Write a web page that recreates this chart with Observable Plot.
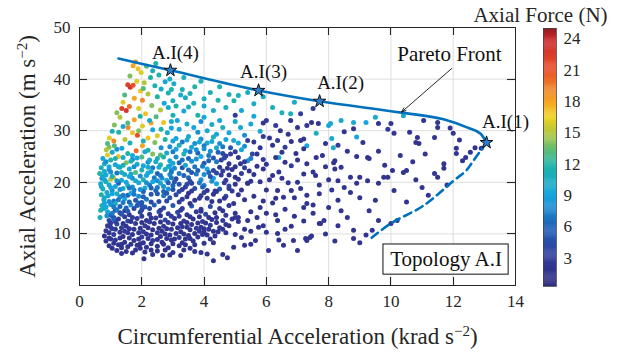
<!DOCTYPE html>
<html><head><meta charset="utf-8">
<script src="https://cdn.jsdelivr.net/npm/d3@7"></script>
<script src="https://cdn.jsdelivr.net/npm/@observablehq/plot@0.6"></script>
<style>
html,body{margin:0;padding:0;background:#fff;}
#wrap{position:relative;width:628px;height:354px;overflow:hidden;}
#wrap svg{position:absolute;top:0;}
</style></head><body><div id="wrap"></div><script>
// ---- data: [circumferential acc (krad/s^2), axial acc (m/s^2), axial force (N)] ----
const warmSpike = [[1.80,43.3,19],[1.72,42.6,18],[1.88,42.0,17],[1.98,41.3,16],[1.62,40.6,14],[2.28,40.3,12],[1.55,38.9,22],[1.63,38.4,23],[1.72,38.8,21],[1.84,39.6,16],[2.08,39.3,15],[2.42,38.7,11],[2.62,38.1,10],[1.96,37.7,17],[2.20,37.1,15],[1.45,36.9,13],[1.76,36.3,18],[2.50,36.6,12],[2.02,35.9,19],[1.36,34.3,22],[1.50,33.9,23],[1.60,34.7,20],[1.90,34.3,16],[2.32,34.9,14],[2.72,35.3,9],[2.12,33.3,17],[1.30,32.6,15],[1.76,32.1,18],[2.46,32.7,13],[1.12,31.1,14],[1.56,30.6,19],[2.02,30.9,16],[2.30,31.5,18],[2.62,30.3,12],[1.26,29.7,12],[1.86,29.1,21],[2.20,28.6,17],[0.96,28.6,16],[1.46,28.3,15],[2.82,29.6,10],[1.62,27.6,11],[2.02,27.1,18],[1.12,27.1,13],[2.42,27.7,14],[0.86,26.3,15],[1.36,26.6,9],[1.82,26.1,20],[2.62,26.7,8],[2.15,42.5,13],[2.35,41.6,11],[2.55,40.8,12],[2.05,38.2,13],[2.85,37.3,11],[1.40,35.5,16],[2.60,34.0,15],[1.95,32.8,12],[2.25,32.0,10],[1.05,29.9,11],[1.70,29.6,17],[2.50,29.0,16],[2.05,28.0,11],[1.55,31.5,13],[1.20,33.5,14],[2.70,31.6,17],[1.90,30.0,14],[2.35,30.2,9],[1.40,30.8,10],[1.10,28.0,19],[0.90,27.5,13],[2.75,28.3,12],[2.95,30.5,9],[3.00,33.0,11],[2.85,34.5,10],[2.75,39.5,9],[2.45,43.0,12]];
const cyanBand = [[1.05,25.8,10],[1.55,25.6,12],[2.1,25.9,9],[2.35,25.5,14],[2.8,25.7,10],[1.25,25.0,17],[0.75,24.6,9],[1.0,24.3,12],[1.4,24.8,10],[1.7,24.4,8],[2.0,24.9,13],[2.5,24.6,11],[2.9,24.2,9],[0.9,25.3,16],[0.8,23.6,10],[1.15,23.4,9],[1.5,23.8,14],[1.85,23.5,10],[2.2,23.9,8],[2.6,23.4,12],[3.0,23.7,10],[0.7,22.8,11],[0.95,22.5,8],[1.3,22.9,12],[1.6,22.6,9],[2.0,22.4,11],[2.35,22.8,7],[2.75,22.5,10],[0.65,21.7,12],[0.85,21.4,9],[1.2,21.8,7],[1.45,21.5,10],[1.8,21.9,13],[2.15,21.3,9],[2.5,21.7,6],[2.9,21.5,8],[0.72,20.8,8],[1.0,20.6,15],[1.1,20.9,16],[1.35,20.4,10],[1.7,20.8,8],[2.05,20.5,11],[2.4,20.9,7],[2.8,20.4,9],[0.68,19.7,10],[0.95,19.5,9],[1.25,19.8,6],[1.55,19.4,11],[1.9,19.9,9],[2.25,19.5,7],[2.6,19.8,10],[3.0,19.4,6],[0.75,18.7,11],[1.05,18.4,8],[1.4,18.8,10],[1.75,18.5,7],[2.1,18.9,9],[2.45,18.4,6],[2.85,18.7,8],[0.7,17.6,12],[0.92,17.4,9],[1.2,17.8,11],[1.55,17.5,6],[1.9,17.3,8],[2.3,17.7,5],[2.7,17.4,7],[0.78,16.6,10],[1.1,16.4,7],[1.45,16.8,9],[1.8,16.5,5],[2.15,16.7,7],[2.55,16.3,4],[0.72,15.5,11],[1.0,15.7,8],[1.3,15.3,6],[1.65,15.6,8],[2.0,15.4,5],[0.68,14.6,12],[0.9,14.3,9],[1.2,14.7,7],[1.55,14.4,5],[0.66,13.2,11],[0.88,13.5,8],[1.1,12.9,6],[0.85,24.0,8],[1.25,23.0,10],[1.65,24.1,11],[2.05,23.2,9],[2.45,24.0,10],[2.85,23.0,11],[0.8,22.1,10],[1.05,21.1,11],[1.6,21.1,9],[2.3,22.1,10],[2.65,20.8,8],[0.85,20.1,12],[1.15,19.2,9],[1.7,19.1,8],[2.05,18.2,6],[2.35,20.1,9],[0.88,18.0,10],[1.3,17.2,8],[1.65,17.9,9],[2.5,19.0,7],[0.8,16.0,9],[1.15,15.9,10],[1.4,16.1,7],[1.9,16.0,6],[1.05,14.0,7],[1.35,13.8,5],[0.78,14.9,10],[2.2,26.2,12],[1.7,25.2,9],[2.6,25.3,13],[1.2,26.4,8],[0.95,26.8,14]];
const cyanFill = [[1.15,24.6,11],[1.85,24.7,9],[2.25,24.3,10],[2.7,24.9,12],[0.95,23.0,9],[1.4,23.3,11],[1.75,23.0,8],[2.2,22.9,10],[2.55,22.9,9],[2.95,22.3,8],[0.75,21.2,10],[1.0,22.0,8],[1.35,21.9,11],[1.65,21.6,10],[1.95,21.2,8],[2.2,21.8,9],[2.6,21.3,7],[2.95,22.0,7],[0.8,20.5,9],[1.2,20.3,8],[1.5,20.0,9],[1.8,20.3,10],[2.15,19.9,8],[2.5,20.3,8],[2.85,19.9,6],[0.7,19.2,10],[1.0,19.0,9],[1.3,18.6,8],[1.6,18.9,7],[1.95,18.6,8],[2.3,18.9,6],[2.7,18.2,6],[3.0,18.6,5],[0.8,17.0,10],[1.05,17.8,9],[1.4,17.5,7],[1.75,17.7,7],[2.05,17.2,6],[2.5,17.8,5],[2.9,17.0,5],[0.95,16.3,8],[1.25,16.6,7],[1.6,16.2,6],[2.0,16.1,5],[2.3,16.2,4],[2.8,16.4,4],[0.85,15.2,9],[1.1,15.2,7],[1.5,15.0,6],[1.85,15.5,5],[2.25,14.9,4]];
const navyCore = [[1.75,14.9,4],[2.1,15.2,5],[2.4,15.6,6],[2.7,15.0,4],[3.0,15.5,5],[3.3,14.9,3],[3.6,15.4,5],[3.9,14.8,3],[4.2,15.3,4],[4.5,14.9,3],[4.8,15.5,2],[1.0,13.6,5],[1.3,14.1,4],[1.6,13.7,3],[1.95,14.2,4],[2.25,13.8,3],[2.55,14.3,5],[2.85,13.9,3],[3.15,14.2,4],[3.45,13.7,2],[3.75,14.3,3],[4.05,13.8,4],[4.35,14.1,2],[4.7,13.6,3],[5.0,14.0,2],[0.95,12.6,4],[1.25,12.9,3],[1.55,12.5,4],[1.85,13.0,3],[2.15,12.6,2],[2.45,13.1,3],[2.75,12.7,4],[3.05,13.0,2],[3.35,12.5,3],[3.65,12.9,2],[3.95,12.4,3],[4.25,12.8,2],[4.6,12.6,3],[0.9,11.6,3],[1.2,11.9,4],[1.5,11.5,2],[1.8,12.0,3],[2.1,11.6,3],[2.4,12.0,2],[2.7,11.5,3],[3.0,11.9,2],[3.3,11.4,3],[3.6,11.8,2],[3.9,11.3,2],[4.2,11.7,3],[4.5,11.2,2],[0.85,10.6,3],[1.15,10.9,2],[1.45,10.5,3],[1.75,10.9,2],[2.05,10.4,3],[2.35,10.8,2],[2.65,10.5,2],[2.95,10.9,3],[3.25,10.4,2],[3.55,10.8,2],[3.85,10.5,3],[4.15,10.9,2],[4.45,10.4,2],[0.8,9.6,2],[1.1,9.9,3],[1.4,9.5,2],[1.7,9.9,2],[2.0,9.4,3],[2.3,9.8,2],[2.6,9.5,2],[2.9,9.8,2],[3.2,9.3,3],[3.5,9.7,2],[3.8,9.4,2],[4.1,9.8,2],[0.85,8.6,2],[1.15,8.8,3],[1.45,8.4,2],[1.75,8.7,2],[2.05,8.3,2],[2.35,8.7,3],[2.65,8.4,2],[2.95,8.8,2],[3.3,8.3,2],[3.65,8.6,2],[4.0,8.2,2],[0.95,7.7,2],[1.25,7.9,2],[1.55,7.5,2],[1.85,7.8,2],[2.15,7.4,2],[2.5,7.6,2],[2.85,7.3,2],[3.2,7.7,2],[3.55,7.2,2],[1.2,6.8,2],[1.5,6.6,2],[1.8,6.9,2],[2.1,6.5,2],[2.5,6.7,2],[3.0,6.4,2],[3.9,6.4,2],[4.1,6.1,2],[2.07,5.2,2],[2.67,5.8,2],[3.25,5.8,2],[4.3,4.8,2],[4.75,5.4,2],[4.95,7.4,2],[4.6,6.0,2],[1.0,12.1,3],[1.35,11.2,3],[1.65,12.4,2],[1.95,11.1,2],[2.25,12.3,3],[2.55,11.1,2],[2.85,12.2,3],[3.15,11.2,2],[3.45,12.2,2],[3.75,11.1,3],[4.05,12.1,2],[1.3,10.3,2],[1.6,9.2,3],[1.9,10.2,2],[2.2,9.1,2],[2.5,10.2,3],[2.8,9.1,2],[3.1,10.1,2],[3.4,9.0,2],[3.7,10.1,2],[4.0,10.3,2],[1.1,13.2,4],[1.45,13.3,3],[2.0,13.4,3],[2.6,13.5,2],[3.2,13.4,3],[3.85,13.3,2],[4.4,13.2,2],[1.35,8.0,2],[1.95,8.1,2],[2.7,8.0,2],[3.4,7.9,2],[1.05,11.0,4],[0.95,9.2,3],[4.35,9.6,2],[4.7,10.2,2],[4.8,11.6,2],[5.1,12.4,2],[5.2,9.3,2],[5.0,13.2,3]];
const coreFill = [[1.15,14.6,4],[1.45,14.5,3],[2.0,14.7,4],[2.6,14.6,3],[3.25,14.6,3],[3.9,14.4,2],[4.6,14.5,2],[1.7,13.2,3],[2.3,13.1,2],[2.95,13.4,3],[3.55,13.3,2],[4.15,13.2,2],[4.9,12.9,2],[1.15,12.4,3],[1.4,12.0,2],[2.0,12.2,2],[2.6,12.3,2],[3.25,12.0,2],[3.8,12.1,2],[4.4,12.2,2],[4.7,11.8,2],[1.0,11.3,3],[1.6,11.0,2],[2.2,11.2,2],[2.8,11.0,2],[3.45,11.3,2],[4.0,11.0,2],[4.6,10.9,2],[0.95,10.2,2],[1.55,10.2,3],[2.15,10.0,2],[2.75,10.0,2],[3.35,10.0,2],[3.95,9.9,2],[4.3,10.5,2],[1.0,9.0,2],[1.3,9.2,2],[1.9,9.0,2],[2.5,8.9,2],[3.05,9.0,2],[3.55,9.1,2],[4.2,9.0,2],[1.1,8.2,2],[1.65,8.0,2],[2.3,8.1,2],[3.0,8.1,2],[3.7,7.9,2],[4.3,8.3,2],[1.05,7.2,2],[1.35,7.3,2],[1.95,7.2,2],[2.3,6.9,2],[2.75,6.9,2],[3.35,6.9,2],[3.7,6.6,2],[1.35,6.2,2],[1.7,6.3,2],[2.35,6.0,2],[2.9,5.9,2]];
const midCloud = [[3.1,28.5,9],[3.5,28.9,10],[3.9,28.4,8],[4.3,28.8,11],[4.7,28.3,9],[3.3,27.8,7],[4.1,27.6,10],[2.9,26.9,8],[3.2,27.2,11],[3.6,26.8,9],[4.0,27.1,7],[4.4,26.7,10],[4.85,26.7,5],[5.3,27.0,8],[3.0,25.9,7],[3.4,26.1,9],[3.8,25.7,6],[4.2,26.0,8],[4.6,25.6,4],[5.0,25.9,3],[5.8,26.7,2],[3.1,24.9,8],[3.5,24.6,6],[3.9,25.0,9],[4.3,24.7,5],[4.7,25.1,3],[5.1,24.8,2],[5.5,24.6,7],[3.2,23.8,6],[3.6,24.1,8],[4.0,23.7,5],[4.4,24.0,7],[4.8,23.6,2],[5.17,23.6,2],[5.4,24.2,8],[3.3,22.8,5],[3.7,23.0,7],[4.1,22.6,9],[4.5,22.9,3],[4.9,22.5,2],[5.3,22.8,3],[5.7,23.1,2],[3.2,21.7,7],[3.6,21.9,5],[4.0,21.5,8],[4.4,21.8,4],[4.8,21.4,2],[5.2,21.7,3],[5.6,21.5,2],[3.1,20.7,4],[3.5,20.9,6],[3.9,20.5,8],[4.3,20.8,9],[4.7,20.4,3],[5.1,20.6,2],[5.5,20.2,2],[3.2,19.6,5],[3.6,19.8,3],[4.0,19.4,7],[4.4,19.7,9],[4.8,19.3,4],[5.4,19.8,2],[3.3,18.6,3],[3.7,18.8,4],[4.1,18.4,2],[4.5,18.7,5],[4.9,18.3,3],[3.1,17.6,4],[3.5,17.9,2],[3.9,17.4,3],[4.3,17.7,2],[4.7,17.3,4],[5.1,17.6,2],[3.3,16.7,3],[3.7,16.5,2],[4.1,16.9,3],[4.5,16.4,2],[4.95,15.9,2],[2.9,23.2,9],[2.95,20.9,7],[2.8,17.9,5],[2.7,19.2,8],[3.4,23.3,10],[3.8,22.3,6],[4.2,21.1,5],[4.6,22.2,3],[5.0,23.0,2],[4.55,24.3,3],[3.35,25.5,11],[3.75,26.3,8],[4.15,25.2,7],[3.55,20.2,4],[3.95,19.1,6],[4.35,18.3,3],[3.4,19.1,3],[3.85,27.8,9],[4.5,27.5,8],[4.95,28.1,10],[5.2,26.3,9],[5.55,25.5,4],[5.9,24.4,3]];
const midFill = [[3.0,28.0,9],[3.45,28.2,10],[3.7,27.5,8],[4.25,27.9,9],[4.6,26.9,7],[5.1,27.6,9],[3.1,26.4,9],[3.55,25.9,7],[4.0,26.5,8],[4.45,25.8,6],[4.85,25.5,3],[3.3,24.3,7],[3.75,24.5,8],[4.15,24.2,6],[4.65,24.7,4],[5.3,24.0,3],[3.05,22.7,8],[3.5,22.4,6],[3.95,23.1,7],[4.3,22.3,4],[4.75,22.7,2],[5.45,22.2,2],[3.35,21.3,6],[3.75,21.6,7],[4.15,21.9,6],[4.55,21.4,3],[5.0,21.0,2],[3.05,20.1,5],[3.45,19.6,4],[3.85,19.9,7],[4.25,20.2,8],[4.65,19.9,3],[5.0,19.6,2],[3.2,18.2,4],[3.6,18.3,3],[4.0,18.0,3],[4.4,18.2,2],[4.8,18.8,3],[5.2,18.5,2],[3.45,17.2,2],[3.85,16.9,3],[4.25,16.3,2],[4.65,16.9,2],[5.3,16.6,2],[3.2,16.2,3],[3.55,15.9,2]];
const upperMid = [[3.03,39.1,10],[3.0,35.8,11],[3.14,32.0,9],[3.4,36.4,10],[3.67,35.3,11],[3.67,30.6,9],[4.1,30.0,10],[4.2,37.4,11],[4.3,33.9,10],[4.5,32.0,9],[4.96,35.8,12],[5.2,33.9,9],[5.17,30.6,10],[5.4,28.1,3],[5.6,35.2,10],[6.0,32.0,3],[6.45,30.0,2],[6.36,28.1,3],[6.78,32.0,2],[7.1,33.3,3],[7.5,34.3,3],[6.78,33.3,11],[7.1,28.1,2],[6.4,24.8,10],[3.8,33.0,12],[4.7,34.5,11],[3.35,33.8,9],[3.9,31.8,8],[4.6,30.6,11],[5.0,31.8,10],[5.5,31.3,9],[5.8,29.9,10],[4.4,29.3,9],[5.3,29.1,8],[6.1,28.6,2],[6.6,26.8,3],[7.0,30.6,2],[6.2,34.5,11],[5.9,36.6,10],[4.8,37.0,11],[3.3,38.0,11],[3.7,38.5,12],[4.0,36.2,11],[6.9,35.5,10],[7.3,31.0,2],[7.45,31.6,2],[7.67,31.4,2],[8.0,31.0,9],[8.4,32.0,10],[8.06,31.4,10],[8.1,28.5,10],[8.15,26.7,10],[7.3,27.1,9],[7.2,28.4,2],[7.2,26.5,2],[2.95,31.8,10],[3.2,30.3,9],[3.45,31.3,10],[3.8,29.7,8],[4.25,31.2,10],[4.8,29.6,9],[3.5,34.6,11],[4.0,34.8,10],[4.45,35.9,12],[5.1,36.8,11],[3.25,36.9,10],[2.95,38.0,12],[3.55,37.2,11],[4.5,38.5,11],[5.4,37.4,10],[5.6,32.8,9],[5.9,31.5,2],[6.5,33.5,11],[5.0,33.0,3],[4.0,32.6,9],[3.1,34.8,12],[2.9,40.0,10],[3.35,40.3,11],[3.9,39.6,11]];
const rightSparse = [[5.8,15.1,2],[5.7,13.2,2],[5.4,19.8,2],[5.4,12.6,2],[5.1,13.2,2],[5.65,8.7,2],[6.0,10.3,2],[6.07,6.8,2],[6.36,10.1,2],[6.55,7.8,2],[6.87,8.7,2],[7.0,6.8,2],[7.26,9.1,2],[7.45,9.6,2],[7.74,12.0,2],[6.36,12.6,2],[6.55,17.1,2],[6.9,17.0,2],[7.2,15.1,2],[7.5,15.6,2],[7.58,21.3,2],[6.36,18.4,2],[6.1,20.5,2],[6.4,22.0,2],[6.8,23.2,3],[7.0,20.0,2],[6.2,16.0,2],[6.0,14.0,2],[6.6,14.8,2],[5.9,22.6,2],[6.3,24.8,2],[7.3,23.6,2],[7.6,24.8,2],[7.8,25.2,2],[8.16,23.8,2],[8.2,22.6,2],[8.4,22.9,2],[8.2,24.2,2],[8.3,20.3,2],[8.5,19.0,2],[8.7,21.0,2],[8.9,19.8,2],[9.0,21.0,2],[9.25,20.3,2],[9.6,19.8,2],[9.77,21.0,2],[9.9,21.0,2],[10.05,22.3,2],[10.1,18.4,2],[10.4,21.9,2],[10.5,22.3,2],[11.4,21.7,2],[11.5,21.0,2],[11.7,23.6,2],[11.7,22.7,2],[9.25,24.8,2],[9.3,24.6,2],[9.1,27.7,2],[7.3,15.9,2],[7.5,14.0,2],[8.0,15.1,2],[8.3,16.5,2],[8.4,14.5,2],[7.7,12.0,2],[7.85,12.6,2],[8.3,11.6,2],[7.4,9.3,2],[7.3,8.7,2],[8.8,10.7,2],[9.4,10.7,2],[9.6,12.6,2],[10.0,12.0,2],[10.2,12.6,2],[8.8,9.1,2],[9.2,9.8,2],[8.8,31.6,10],[9.2,31.6,9],[9.6,31.4,2],[9.5,32.6,10],[8.8,30.4,2],[10.0,31.4,2],[10.1,29.5,2],[10.4,32.9,10],[10.6,29.7,2],[10.9,27.5,2],[10.8,27.7,2],[11.05,32.0,2],[11.4,28.7,2],[11.5,31.6,2],[11.5,30.6,2],[12.0,29.5,2],[12.1,26.6,2],[12.1,25.6,2],[12.3,24.2,2],[12.4,24.8,2],[12.55,25.8,2],[12.7,26.7,2],[12.9,26.6,2],[10.85,28.7,2],[8.6,26.0,2],[8.9,25.0,2],[9.6,26.0,2],[10.3,25.2,2],[10.7,24.0,2],[11.1,25.5,2],[9.8,23.3,2],[10.8,20.5,2],[11.0,19.0,2],[9.0,17.0,2],[9.5,16.5,2],[8.7,18.0,2],[10.5,16.2,2],[9.3,14.5,2],[8.6,13.2,2],[11.2,17.5,2],[11.8,19.5,2],[8.9,28.8,9],[7.6,29.5,11],[8.5,29.8,2],[9.9,30.3,3],[11.9,30.5,2],[12.2,28.2,2],[6.3,31.0,3],[6.7,29.3,2],[7.9,27.5,2],[8.3,27.2,3],[6.95,25.6,2],[7.5,22.0,2],[8.0,20.5,2],[8.1,18.5,2],[7.7,17.8,2],[7.1,18.8,2],[6.7,19.9,2],[7.2,12.5,2],[6.8,11.5,2],[7.9,10.0,2],[8.2,8.6,2],[9.0,8.3,2],[6.4,8.8,2],[5.9,11.6,2],[5.5,10.5,2],[5.3,7.8,2],[5.6,27.8,2],[5.9,28.9,3],[6.2,27.2,2],[6.5,25.8,2],[6.8,27.9,2],[7.0,24.3,2],[5.7,25.5,2],[6.0,23.5,2],[6.6,23.9,2],[6.2,21.3,2],[5.8,20.1,2],[6.5,20.8,2],[7.2,21.6,2],[6.0,18.5,2],[6.8,18.4,2],[5.6,17.3,2],[6.3,16.9,2],[7.3,17.5,2],[5.9,16.4,2],[7.7,19.5,2],[7.9,23.0,2],[5.5,14.3,2],[6.3,13.7,2],[6.9,13.4,2],[5.75,11.3,2],[6.6,10.9,2],[5.3,10.9,2],[5.0,9.9,2],[5.5,8.0,2]];

// Pareto front (solid) and its lower continuation (dashed)
const frontX = [1.25, 2.92, 5.75, 7.71, 10.34, 11.69, 12.46, 12.88, 13.07];
const frontY = [44.0, 41.7, 37.8, 35.7, 33.5, 32.2, 30.6, 29.4, 27.7];
const lowerX = [13.07, 12.65, 12.42, 12.01, 11.05, 9.99, 9.31];
const lowerY = [27.7, 24.2, 22.3, 20.3, 15.5, 12.0, 8.9];

// Selected designs
const starNames = ["A.I(1)", "A.I(2)", "A.I(3)", "A.I(4)"];
const starX = [13.07, 7.71, 5.75, 2.92];
const starY = [27.7, 35.7, 37.8, 41.7];

const xTicks = [0, 2, 4, 6, 8, 10, 12, 14];
const yTicks = [10, 20, 30, 40, 50];
const cbTicks = [3, 6, 9, 12, 15, 18, 21, 24];
const cbDomain = [0.3, 25];

// colour map (jet-like)
const colorStops = [0.3, 3, 6, 9, 12, 13.5, 15, 16.5, 18, 21, 24, 25];
const colorRange = ["#2e2a7d","#333b99","#1f63b8","#16a6de","#1fb3a5","#68bd6e","#b3c63b","#efd21f","#f5a424","#e9502a","#c8282b","#8e1b1f"];

// ---- styles / annotation placement ----
const FONT = "Liberation Serif, Times New Roman, serif";
const INK = "#262626";
const BLUE = "#0072BD";
const labelDx = [19, 21, 5, 5];
const labelDy = [-15, -12, -12, -11];

const points = [...navyCore, ...coreFill, ...cyanBand, ...cyanFill, ...midCloud, ...midFill, ...upperMid, ...rightSparse, ...warmSpike];
const front = frontX.map((x, i) => ({x, y: frontY[i]}));
const lower = lowerX.map((x, i) => ({x, y: lowerY[i]}));
const stars = starNames.map((name, i) => ({name, x: starX[i], y: starY[i], dx: labelDx[i], dy: labelDy[i]}));
const colorScale = {type: "linear", domain: colorStops, range: colorRange, interpolate: "rgb", clamp: true};

const W = 628, H = 354, ML = 79, MR = 113, MT = 27, MB = 69;

function innerTicks(index, scales, values, dims) {
  const g = d3.create("svg:g").attr("stroke", INK).attr("stroke-width", 1.1);
  const L = 8;
  const top = dims.marginTop, bottom = dims.height - dims.marginBottom;
  const left = dims.marginLeft, right = dims.width - dims.marginRight;
  for (const t of xTicks.slice(1, -1)) {
    const px = Math.round(scales.x(t)) + 0.5;
    g.append("line").attr("x1", px).attr("x2", px).attr("y1", bottom).attr("y2", bottom - L);
    g.append("line").attr("x1", px).attr("x2", px).attr("y1", top).attr("y2", top + L);
  }
  for (const t of yTicks.slice(0, -1)) {
    const py = Math.round(scales.y(t)) + 0.5;
    g.append("line").attr("y1", py).attr("y2", py).attr("x1", left).attr("x2", left + L);
    g.append("line").attr("y1", py).attr("y2", py).attr("x1", right).attr("x2", right - L);
  }
  return g.node();
}

const main = Plot.plot({
  width: W, height: H, marginLeft: ML, marginRight: MR, marginTop: MT, marginBottom: MB,
  style: {fontFamily: FONT, fontSize: "17px", background: "transparent", color: INK},
  x: {domain: [0, 14]},
  y: {domain: [0, 50]},
  color: colorScale,
  marks: [
    Plot.gridX(xTicks, {stroke: "#dedede", strokeOpacity: 1, strokeWidth: 1}),
    Plot.gridY(yTicks, {stroke: "#dedede", strokeOpacity: 1, strokeWidth: 1}),
    Plot.dot(points, {x: d => d[0], y: d => d[1], fill: d => d[2], r: 2.5}),
    Plot.line(front, {x: "x", y: "y", stroke: BLUE, strokeWidth: 2.6, curve: "monotone-x"}),
    Plot.line(lower, {x: "x", y: "y", stroke: BLUE, strokeWidth: 2.6, curve: "catmull-rom", strokeDasharray: "8,5"}),
    Plot.arrow([{x1: 11.95, y1: 42.05, x2: 10.34, y2: 33.6}], {x1: "x1", y1: "y1", x2: "x2", y2: "y2", stroke: "#111", strokeWidth: 0.9, headLength: 8, headAngle: 40}),
    Plot.text(["Pareto Front"], {x: 11.88, y: 43.6, lineAnchor: "bottom", fontSize: 21, fill: "#111"}),
    Plot.dot(stars, {x: "x", y: "y", symbol: "star", r: 4, fill: "#2b7fcf", stroke: "#111", strokeWidth: 1}),
    ...stars.map(s => Plot.text([s], {x: "x", y: "y", text: "name", dx: s.dx, dy: s.dy, lineAnchor: "bottom", fontSize: 19, fill: "#111"})),
    Plot.rect([{x1: 9.76, x2: 13.78, y1: 2.1, y2: 7.95}], {x1: "x1", x2: "x2", y1: "y1", y2: "y2", fill: "white", stroke: "#111", strokeWidth: 1}),
    Plot.text(["Topology A.I"], {x: 11.77, y: 5.0, lineAnchor: "middle", fontSize: 21, fill: "#111"}),
    Plot.frame({stroke: INK, strokeWidth: 1}),
    innerTicks,
    Plot.axisX({ticks: xTicks, tickSize: 0, tickPadding: 9, label: null, fontSize: 17, tickFormat: d => String(d)}),
    Plot.axisY({ticks: yTicks, tickSize: 0, tickPadding: 9, label: null, fontSize: 17}),
    Plot.text(["x"], {frameAnchor: "bottom", dy: 58, textAnchor: "middle", lineAnchor: "bottom", fontSize: 23, className: "xlab", fill: INK}),
    Plot.text(["y"], {frameAnchor: "left", dx: -45, rotate: -90, textAnchor: "middle", lineAnchor: "bottom", fontSize: 23, className: "ylab", fill: INK}),
    Plot.text(["Axial Force (N)"], {frameAnchor: "top-right", dx: 25, dy: -6, textAnchor: "middle", lineAnchor: "bottom", fontSize: 21, fill: INK})
  ]
});

function supLabel(svg, cls, base, sup, tail) {
  const t = d3.select(svg).select(`.${cls} text`);
  t.text(null);
  t.append("tspan").text(base);
  t.append("tspan").attr("dy", -8).attr("font-size", 15).text(sup);
  t.append("tspan").attr("dy", 8).text(tail);
}
supLabel(main, "xlab", "Circumferential Acceleration (krad s", "\u22122", ")");
supLabel(main, "ylab", "Axial Acceleration (m s", "\u22122", ")");

// colour bar
const bands = d3.range(cbDomain[0], cbDomain[1], 0.1);
const cb = Plot.plot({
  width: 85, height: H, marginLeft: 0, marginRight: 72, marginTop: 28, marginBottom: 68,
  style: {fontFamily: FONT, fontSize: "17px", background: "transparent", color: INK},
  x: {domain: [0, 1], axis: null},
  y: {domain: cbDomain},
  color: colorScale,
  marks: [
    Plot.rect(bands, {x1: 0, x2: 1, y1: d => d, y2: d => Math.min(d + 0.13, cbDomain[1]), fill: d => d + 0.05}),
    Plot.frame({stroke: "#444", strokeWidth: 0.8}),
    Plot.axisY({anchor: "right", ticks: cbTicks, tickSize: 0, tickPadding: 7, label: null, fontSize: 17})
  ]
});

const wrap = document.getElementById("wrap");
main.style.left = "0px";
cb.style.left = "543px";
wrap.appendChild(main);
wrap.appendChild(cb);
</script></body></html>
